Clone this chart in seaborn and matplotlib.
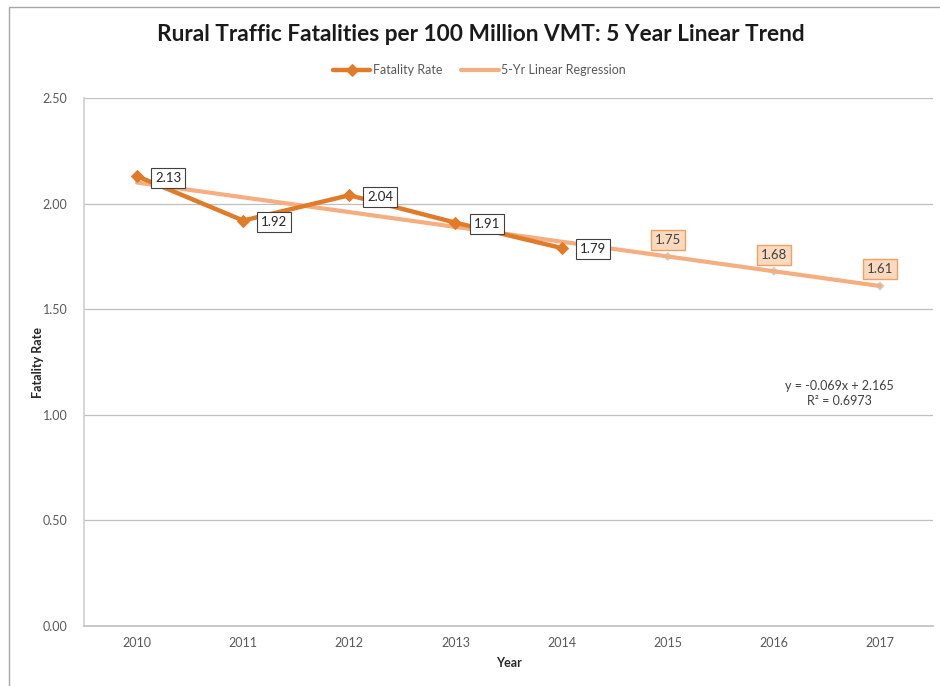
import matplotlib
matplotlib.use("Agg")
import matplotlib.pyplot as plt
import seaborn as sns
import pandas as pd
from matplotlib.patches import Rectangle

# Data
years = [2010, 2011, 2012, 2013, 2014, 2015, 2016, 2017]
actual_years = [2010, 2011, 2012, 2013, 2014]
fatality_rate = [2.13, 1.92, 2.04, 1.91, 1.79]
trend_rate = [2.10, 2.03, 1.96, 1.89, 1.82, 1.75, 1.68, 1.61]
forecast_years = [2015, 2016, 2017]
forecast_rate = [1.75, 1.68, 1.61]
y_ticks = [0.0, 0.5, 1.0, 1.5, 2.0, 2.5]
equation_text = "y = -0.069x + 2.165\nR² = 0.6973"

sns.set_theme(style="white")
plt.rcParams["font.family"] = ["Lato", "DejaVu Sans"]

dark_orange = "#E07B2A"
light_orange = "#F4AE80"
text_gray = "#595959"
grid_gray = "#BFBFBF"

fig = plt.figure(figsize=(9.4, 6.86), dpi=100)
ax = fig.add_axes([0.0894, 0.0875, 0.9032, 0.7695])

trend_df = pd.DataFrame({"Year": years, "Rate": trend_rate})
actual_df = pd.DataFrame({"Year": actual_years, "Rate": fatality_rate})
fc_df = pd.DataFrame({"Year": forecast_years, "Rate": forecast_rate})

sns.lineplot(data=trend_df, x="Year", y="Rate", ax=ax, color=light_orange,
             linewidth=3, zorder=3, label="5-Yr Linear Regression")
sns.scatterplot(data=fc_df, x="Year", y="Rate", ax=ax, marker="D", s=22,
                color="#C9CFC9", edgecolor="none", zorder=2, legend=False)
sns.lineplot(data=actual_df, x="Year", y="Rate", ax=ax, color=dark_orange,
             linewidth=3.2, marker="D", markersize=6.5, markeredgecolor=dark_orange,
             zorder=4, label="Fatality Rate")

# Data labels for observed values
for x, v in zip(actual_years, fatality_rate):
    ax.annotate(f"{v:.2f}", (x, v), xytext=(13, -1), textcoords="offset points",
                ha="left", va="center", fontsize=9.5, color="#262626", zorder=6,
                bbox=dict(boxstyle="square,pad=0.3", fc="white", ec="#404040", lw=0.8))

# Data labels for projected values
for x, v in zip(forecast_years, forecast_rate):
    ax.annotate(f"{v:.2f}", (x, v), xytext=(0, 12), textcoords="offset points",
                ha="center", va="center", fontsize=9.5, color="#404040", zorder=6,
                bbox=dict(boxstyle="square,pad=0.3", fc="#FBD9BF", ec="#F0A060", lw=1.0))

ax.text(2016.62, 1.10, equation_text, ha="center", va="center", fontsize=9,
        color="#404040", linespacing=1.25)

ax.set_xlim(2009.5, 2017.5)
ax.set_ylim(0, 2.5)
ax.set_yticks(y_ticks)
ax.set_yticklabels([f"{t:.2f}" for t in y_ticks], fontsize=9, color=text_gray)
ax.set_xticks(years)
ax.set_xticklabels([str(y) for y in years], fontsize=9, color=text_gray)
ax.tick_params(axis="x", length=0, pad=8)
ax.tick_params(axis="y", length=0, pad=12)
ax.grid(axis="y", color=grid_gray, linewidth=0.9)
ax.set_axisbelow(True)
for side in ["top", "right"]:
    ax.spines[side].set_visible(False)
ax.spines["left"].set_color("#D0D0D0")
ax.spines["bottom"].set_color(grid_gray)
ax.spines["bottom"].set_linewidth(1.2)

ax.set_xlabel("Year", fontsize=9, fontweight="bold", color="#262626", labelpad=6)
ax.set_ylabel("Fatality Rate", fontsize=9, fontweight="bold", color="#262626", labelpad=2)
ax.yaxis.set_label_coords(-0.047, 0.5)

handles, labels = ax.get_legend_handles_labels()
ax.get_legend().remove()
order = [labels.index("Fatality Rate"), labels.index("5-Yr Linear Regression")]
leg = fig.legend([handles[i] for i in order], [labels[i] for i in order],
                 loc="center", bbox_to_anchor=(0.51, 0.898), ncol=2, frameon=False,
                 fontsize=9, handlelength=3, columnspacing=1.5, handletextpad=0.2)
for t in leg.get_texts():
    t.set_color(text_gray)

fig.suptitle("Rural Traffic Fatalities per 100 Million VMT: 5 Year Linear Trend",
             x=0.511, y=0.965, fontsize=16.3, fontweight="bold", color="#1a1a1a")

fig.patches.append(Rectangle((0.0096, -0.01), 1.0, 1.0, transform=fig.transFigure,
                             fill=False, ec="#A6A6A6", lw=1.0))

fig.savefig("out.png", dpi=100)
